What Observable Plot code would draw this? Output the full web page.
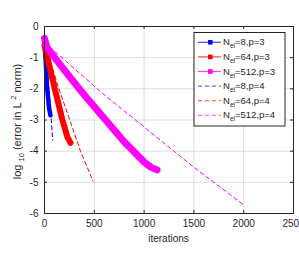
<!DOCTYPE html>
<html><head><meta charset="utf-8">
<script src="https://cdn.jsdelivr.net/npm/d3@7"></script>
<script src="https://cdn.jsdelivr.net/npm/@observablehq/plot@0.6"></script>
<style>
html,body{margin:0;padding:0;background:#fff;}
#chart{width:299px;height:254px;}
</style></head>
<body><div id="chart"></div>
<script>
// ---- data ----
const xTicks = [0, 500, 1000, 1500, 2000, 2500];
const yTicks = [0, -1, -2, -3, -4, -5, -6];

const iterNel8p3 = [0, 10, 25, 45, 60];
const errNel8p3  = [-0.5, -1.0, -1.9, -2.6, -2.85];

const iterNel64p3 = [0, 107, 180, 230, 261];
const errNel64p3  = [-0.6, -2.05, -3.0, -3.55, -3.73];

const iterNel512p3 = [0, 10, 25, 200, 400, 560, 800, 1000, 1070, 1130];
const errNel512p3  = [-0.38, -0.5, -0.68, -1.4, -2.2, -2.8, -3.7, -4.35, -4.52, -4.6];

const iterNel8p4 = [0, 30, 60, 83];
const errNel8p4  = [-0.5, -1.5, -2.65, -3.65];

const iterNel64p4 = [0, 134, 254, 361, 487];
const errNel64p4  = [-0.5, -1.9, -3.0, -4.0, -4.96];

const iterNel512p4 = [0, 140, 580, 1064, 1493, 1990];
const errNel512p4  = [-0.5, -0.9, -2.14, -3.39, -4.5, -5.7];

const seriesLabels = ["8,p=3", "64,p=3", "512,p=3", "8,p=4", "64,p=4", "512,p=4"];
const seriesColors = ["#0000ff", "#ff0000", "#ff00ff", "#0000ff", "#ff0000", "#ff00ff"];

// ---- build tables ----
function rows(xs, ys, k) { return xs.map((x, i) => ({x, y: ys[i], k})); }
const solidSets = [
  rows(iterNel8p3, errNel8p3, 0),
  rows(iterNel64p3, errNel64p3, 1),
  rows(iterNel512p3, errNel512p3, 2)
];
const dashSets = [
  rows(iterNel8p4, errNel8p4, 3),
  rows(iterNel64p4, errNel64p4, 4),
  rows(iterNel512p4, errNel512p4, 5)
];
const solidWidths = [4.5, 6, 7];

const W = 299, H = 254;
const mL = 44, mR = 6, mT = 26, mB = 41;
const innerH = H - mT - mB;
const ink = "#262626";
const font = "'Liberation Sans', Arial, sans-serif";

const marks = [
  Plot.gridX(xTicks, {stroke: ink, strokeOpacity: 0.15}),
  Plot.gridY(yTicks, {stroke: ink, strokeOpacity: 0.15}),
  // inward ticks on all four sides
  Plot.ruleX(xTicks, {x: d => d, stroke: ink, insetTop: innerH - 3}),
  Plot.ruleX(xTicks, {x: d => d, stroke: ink, insetBottom: innerH - 3}),
  Plot.ruleY(yTicks, {y: d => d, stroke: ink, insetRight: (W - mL - mR) - 3}),
  Plot.ruleY(yTicks, {y: d => d, stroke: ink, insetLeft: (W - mL - mR) - 3}),
];
// dashed p=4 lines
dashSets.forEach(s => marks.push(Plot.line(s, {x: "x", y: "y", stroke: seriesColors[s[0].k], strokeWidth: 1, strokeDasharray: "4,3"})));
// solid p=3 lines (dense square markers appear as thick bands)
solidSets.forEach((s, i) => marks.push(Plot.line(s, {x: "x", y: "y", stroke: seriesColors[s[0].k], strokeWidth: solidWidths[i], strokeLinecap: "round", strokeLinejoin: "round"})));
marks.push(Plot.frame({stroke: ink, strokeWidth: 1}));
marks.push(Plot.axisX(xTicks, {tickSize: 0, tickPadding: 6, tickFormat: d => String(d), label: null, fontSize: 10, color: ink}));
marks.push(Plot.axisY(yTicks, {tickSize: 0, tickPadding: 6, tickFormat: d => String(d), label: null, fontSize: 10, color: ink}));

const chart = Plot.plot({
  width: W, height: H,
  marginLeft: mL, marginRight: mR, marginTop: mT, marginBottom: mB,
  x: {domain: [0, 2500]},
  y: {domain: [-6, 0]},
  style: {fontFamily: font, color: ink, background: "#fff"},
  marks
});
document.getElementById("chart").appendChild(chart);

const svg = d3.select(chart);
svg.selectAll("text").attr("fill", ink);

// x label
svg.append("text").attr("x", (mL + W - mR) / 2).attr("y", 242)
  .attr("text-anchor", "middle").attr("font-size", 10).attr("font-family", font)
  .attr("fill", ink).text("iterations");

// y label with sub/superscripts
const yl = svg.append("text")
  .attr("transform", `translate(21,${(mT + H - mB) / 2 + 2}) rotate(-90)`)
  .attr("text-anchor", "middle").attr("font-size", 11).attr("font-family", font).attr("fill", ink);
yl.append("tspan").text("log ");
yl.append("tspan").attr("font-size", 7.5).attr("dy", 3).text("10");
yl.append("tspan").attr("dy", -3).text(" (error in L ");
yl.append("tspan").attr("font-size", 7.5).attr("dy", -5).text("2");
yl.append("tspan").attr("dy", 5).text(" norm)");

// legend
const lg = svg.append("g").attr("text-anchor", "start");
lg.append("rect").attr("x", 194).attr("y", 32.5).attr("width", 91).attr("height", 93.5)
  .attr("fill", "#fff").attr("stroke", ink).attr("stroke-width", 1);
seriesLabels.forEach((lab, i) => {
  const y = 42.3 + i * 14.6;
  const c = seriesColors[i];
  const solid = i < 3;
  lg.append("line").attr("x1", 198).attr("x2", 221).attr("y1", y).attr("y2", y)
    .attr("stroke", c).attr("stroke-width", solid ? 1.2 : 1)
    .attr("stroke-dasharray", solid ? null : "4,3").attr("stroke-opacity", 0.75);
  if (solid) lg.append("rect").attr("x", 208).attr("y", y - 2.3).attr("width", 4.6).attr("height", 4.6).attr("fill", c);
  const t = lg.append("text").attr("x", 223).attr("y", y + 3).attr("font-size", 9.5)
    .attr("font-family", font).attr("fill", ink).attr("text-anchor", "start");
  t.append("tspan").text("N");
  t.append("tspan").attr("font-size", 6.5).attr("dy", 3).text("el");
  t.append("tspan").attr("dy", -3).text("=" + lab);
});
</script>
</body></html>
